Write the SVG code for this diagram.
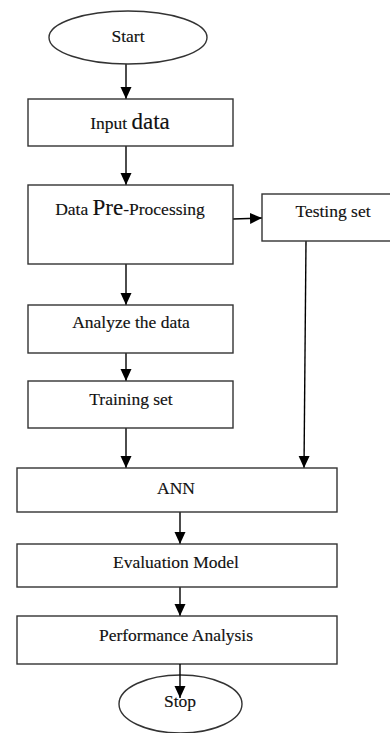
<svg xmlns="http://www.w3.org/2000/svg" width="390" height="733" viewBox="0 0 390 733">
<style>
.box{fill:#fff;stroke:#333;stroke-width:1.4}
.t{font-family:"Liberation Serif","Times New Roman",serif;font-size:17.5px;fill:#111;text-anchor:middle;stroke:#111;stroke-width:0.15}
.big{font-size:23px}
.c{stroke:#000;stroke-width:1.4;fill:none}
</style>
<defs>
<marker id="ah" markerUnits="userSpaceOnUse" markerWidth="13" markerHeight="13" viewBox="0 0 13 13" refX="12" refY="6.5" orient="auto">
<path d="M0,1 L12,6.5 L0,12 Z" fill="#000"/>
</marker>
</defs>
<rect width="390" height="733" fill="#fff"/>
<g id="connectors">
<line class="c" x1="126" y1="64" x2="126" y2="99" marker-end="url(#ah)"/>
<line class="c" x1="126" y1="146" x2="126" y2="185" marker-end="url(#ah)"/>
<line class="c" x1="233" y1="219" x2="262" y2="218" marker-end="url(#ah)"/>
<line class="c" x1="126" y1="264" x2="126" y2="305" marker-end="url(#ah)"/>
<line class="c" x1="126" y1="353" x2="126" y2="381" marker-end="url(#ah)"/>
<line class="c" x1="126" y1="428" x2="126" y2="468" marker-end="url(#ah)"/>
<line class="c" x1="306" y1="241" x2="304" y2="468" marker-end="url(#ah)"/>
<line class="c" x1="180" y1="512" x2="180" y2="544" marker-end="url(#ah)"/>
<line class="c" x1="180" y1="587" x2="180" y2="616" marker-end="url(#ah)"/>
</g>
<g id="start">
<ellipse class="box" cx="128" cy="37.5" rx="79" ry="26.5"/>
<text class="t" x="128" y="42">Start</text>
</g>
<g id="input">
<rect class="box" x="28" y="99" width="205" height="47"/>
<text class="t" x="130" y="129">Input <tspan class="big">data</tspan></text>
</g>
<g id="preprocessing">
<rect class="box" x="28" y="185" width="205" height="79"/>
<text class="t" x="130" y="215">Data <tspan class="big">Pre</tspan>-Processing</text>
</g>
<g id="testing">
<rect class="box" x="262" y="194" width="140" height="47"/>
<text class="t" x="333" y="217">Testing set</text>
</g>
<g id="analyze">
<rect class="box" x="28" y="305" width="205" height="48"/>
<text class="t" x="131" y="328">Analyze the data</text>
</g>
<g id="training">
<rect class="box" x="28" y="381" width="205" height="47"/>
<text class="t" x="131" y="405">Training set</text>
</g>
<g id="ann">
<rect class="box" x="17" y="468" width="320" height="44"/>
<text class="t" x="176" y="494">ANN</text>
</g>
<g id="evaluation">
<rect class="box" x="17" y="544" width="320" height="43"/>
<text class="t" x="176" y="568">Evaluation Model</text>
</g>
<g id="performance">
<rect class="box" x="17" y="616" width="320" height="48"/>
<text class="t" x="176" y="641">Performance Analysis</text>
</g>
<g id="stop">
<ellipse class="box" cx="180.5" cy="704" rx="61.5" ry="29"/>
<text class="t" x="180" y="707">Stop</text>
</g>
<g id="connectors-top">
<line class="c" x1="180" y1="664" x2="180" y2="698" marker-end="url(#ah)"/>
</g>
</svg>
